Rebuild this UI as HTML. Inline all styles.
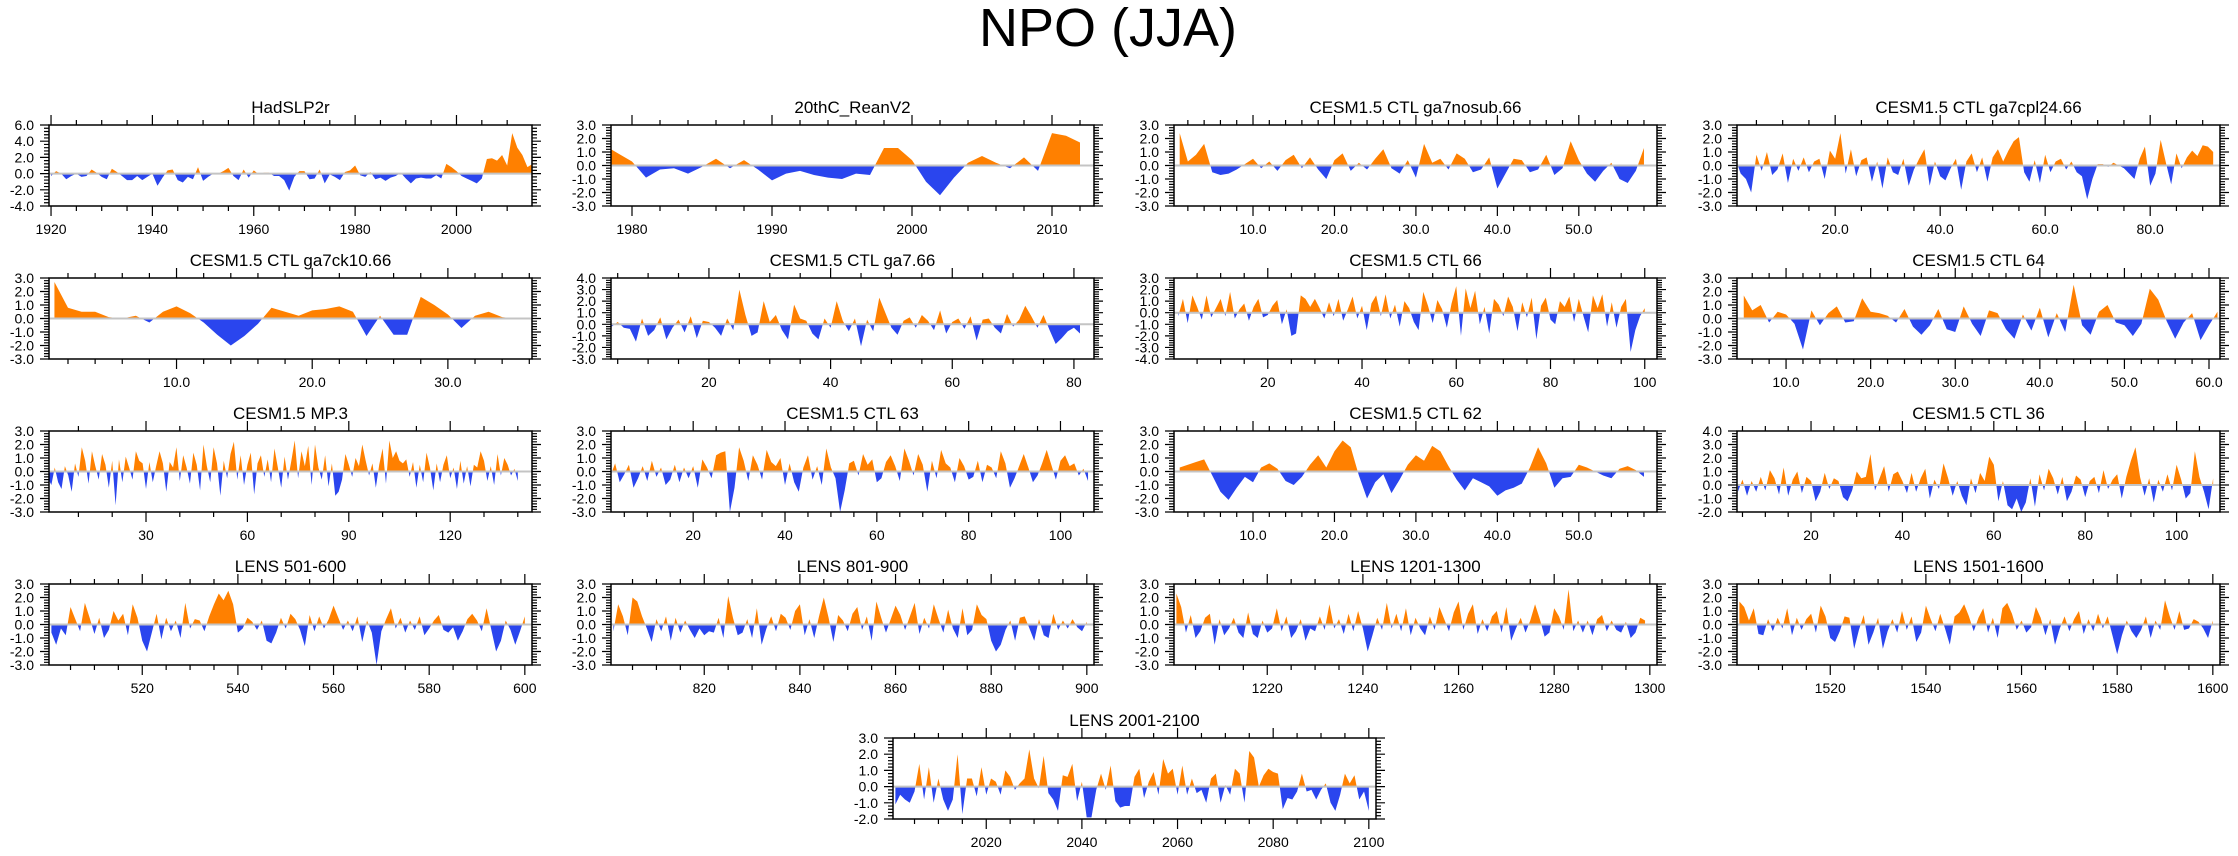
<!DOCTYPE html>
<html><head><meta charset="utf-8"><title>NPO (JJA)</title>
<style>
html,body{margin:0;padding:0;background:#fff;}
svg{display:block;font-family:"Liberation Sans",Arial,sans-serif;}
</style></head>
<body>
<svg id="chart" width="2238" height="856" viewBox="0 0 2238 856" xmlns="http://www.w3.org/2000/svg">
<text x="1108" y="46" text-anchor="middle" font-size="54" fill="#000">NPO (JJA)</text>
</svg>
<script>
// ---- data ----
const hadslp2r = [-0.3,0.3,0,-0.7,-0.3,0,-0.4,-0.3,0.5,0.1,-0.4,-0.7,0.6,0.2,-0.3,-0.8,-0.8,-0.3,-0.8,-0.4,0,-1.5,-0.5,0.4,0.5,-0.8,-1.1,-0.4,-0.7,0.8,-0.9,-0.4,0,0,0.3,0.7,-0.3,-0.8,0.5,-0.5,0.4,-0.1,0.1,0.1,-0.3,-0.3,-0.8,-2.1,-0.4,0.3,0.3,-0.7,-0.6,0.5,-1.2,-0.1,-0.4,-0.8,0.2,0.4,1.0,-0.2,-0.4,0.2,-0.7,-0.5,-0.9,-0.5,-0.3,0.1,-0.6,-1.2,-0.6,-0.5,-0.6,-0.6,-0.2,-0.6,1.2,0.8,0.3,-0.3,-0.6,-0.9,-1.2,-0.6,1.8,1.9,1.6,2.3,1.0,5.0,3.2,2.3,0.8,1.2];
const reanv2 = [1.5,0.9,0.3,-0.9,-0.3,-0.2,-0.6,-0.1,0.5,-0.2,0.4,-0.3,-1.1,-0.6,-0.4,-0.7,-0.9,-1.0,-0.6,-0.7,1.3,1.3,0.4,-1.2,-2.2,-0.9,0.2,0.7,0.2,-0.2,0.6,-0.4,2.4,2.2,1.7];
const ga7nosub = [2.4,0.3,0.8,1.6,-0.5,-0.7,-0.6,-0.3,0.1,0.5,-0.2,0.3,-0.4,0.4,0.8,-0.2,0.6,-0.3,-1.0,0.4,0.9,-0.4,0.2,-0.3,0.5,1.2,-0.2,-0.6,0.4,-0.9,1.6,0.2,0.5,-0.3,0.9,0.5,-0.5,-0.3,0.6,-1.7,-0.6,0.5,0.4,-0.5,-0.3,0.8,-0.7,-0.2,1.8,0.4,-0.6,-1.2,-0.4,0.2,-1.0,-1.3,-0.4,1.3];
const ga7cpl24 = [0.5,-0.6,-1.0,-2.0,0.8,-0.4,1.0,-0.7,-0.3,0.9,-1.3,0.5,-0.4,0.6,-0.5,0.3,0.5,-1.0,1.1,0.5,2.4,-0.6,1.2,-0.8,0.4,0.6,-1.2,0.3,-1.7,0.6,-0.5,-0.7,0.5,-1.5,-0.3,0.5,1.2,-1.5,0.3,-0.8,-1.1,-0.2,0.5,-1.8,0.3,0.9,-0.5,0.6,-1.2,0.6,1.2,0.3,1.1,1.8,2.1,-0.5,-1.2,0.4,-1.3,0.8,-0.5,0.3,0.5,-0.3,0.3,-0.5,-0.8,-2.5,-1.0,0.1,0.1,-0.1,0.2,0.0,-0.2,-0.6,-1.0,0.5,1.4,-1.5,-0.6,1.9,0.2,-1.4,0.9,-0.2,0.6,1.1,0.7,1.5,1.4,1.0];
const ga7ck10 = [2.7,0.8,0.5,0.5,0.1,0.0,0.2,-0.3,0.5,0.9,0.4,-0.3,-1.2,-2.0,-1.3,-0.4,0.8,0.5,0.2,0.6,0.7,0.9,0.5,-1.3,0.2,-1.2,-1.2,1.6,1.0,0.3,-0.7,0.2,0.5,0.1,0.0];
const ga7 = [-0.2,0.2,-0.3,-0.4,-1.5,0.5,-1.0,-0.5,0.6,-1.3,-0.3,0.4,-0.7,0.7,-1.2,0.3,0.2,-0.3,-1.0,0.5,-0.5,3.0,0.8,-1.0,-0.7,2.0,0.2,0.8,-0.5,-1.3,1.7,0.5,0.3,-0.8,-1.3,0.5,-0.3,2.0,0.3,-0.6,0.5,-1.9,0.4,-0.6,2.3,1.0,-0.3,-0.9,0.3,0.6,-0.3,0.8,0.3,-0.5,1.2,-0.8,0.2,0.5,-0.4,0.7,-1.4,0.4,0.5,-0.3,-0.8,0.9,-0.2,0.4,1.6,0.7,-0.3,0.8,-0.5,-1.7,-1.2,-0.6,-0.3,-0.8];
const ctl66 = [-0.3,1.2,-0.9,1.5,0.5,-0.6,1.5,-0.4,0.4,1.2,-0.3,1.8,-0.5,0.3,0.8,-0.7,0.5,1.2,-0.4,-0.2,0.6,1.1,-1.0,0.3,-2.0,-1.8,1.5,1.2,0.5,1.2,0.4,-0.5,0.9,-0.3,1.2,-0.7,0.3,1.4,-0.5,0.6,-1.5,0.8,1.5,-0.3,1.6,-0.5,0.7,-1.2,1.0,0.4,-0.8,-1.5,1.8,0.6,-0.9,1.1,0.3,-1.3,0.8,2.3,-2.0,2.1,0.4,1.9,-1.0,0.5,-1.8,1.2,0.7,-0.3,1.4,0.5,-1.6,0.9,-0.4,1.3,-2.3,0.6,1.3,-0.6,-1.0,1.0,0.5,1.4,-0.8,1.2,-0.3,-1.7,1.5,0.4,1.6,-1.2,0.9,-1.3,0.5,1.2,-3.4,-1.5,-0.3,0.4];
const ctl64 = [1.7,0.6,1.0,-0.3,0.5,0.3,-0.4,-2.3,0.6,-0.5,0.4,0.9,-0.3,-0.2,1.5,0.5,0.4,0.2,-0.3,0.7,-0.6,-1.2,-0.5,0.7,-0.8,-1.0,0.9,-0.4,-1.3,0.6,0.4,-0.8,-1.5,0.3,-0.9,0.8,-1.4,0.4,-1.0,2.5,-0.5,-1.2,0.5,1.0,-0.3,-0.5,-1.3,-0.4,2.2,1.4,-0.2,-1.5,-0.3,0.4,-1.6,-0.5,0.5];
const mp3 = [-0.5,-1.0,0.3,-0.8,-1.3,0.4,-0.3,-1.5,0.6,-0.4,1.8,0.8,-0.9,1.5,0.4,-0.6,1.3,0.5,-1.2,0.8,-2.5,0.9,-0.8,1.1,0.3,-0.6,1.5,0.8,0.6,-1.3,0.7,-0.8,0.4,1.5,0.6,-1.5,0.7,0.3,1.8,-0.7,1.2,0.3,-0.9,1.4,0.5,-1.4,2.0,0.4,-0.8,1.8,0.6,-1.8,0.8,-0.5,1.3,2.2,-0.6,1.2,-1.0,0.5,1.4,-1.7,0.6,1.2,-0.4,0.9,-0.8,1.7,0.3,-1.2,1.1,-0.6,0.8,2.3,-0.5,1.5,0.4,1.9,-1.0,2.0,0.3,-0.6,1.2,-1.1,0.6,-1.8,-1.5,-0.6,1.3,0.5,-0.4,1.0,0.4,2.0,0.8,-0.3,0.6,-1.2,0.5,1.7,-0.9,2.3,1.0,1.5,0.8,0.6,0.9,-0.4,0.7,-1.2,0.5,-0.8,1.4,0.3,-1.4,0.6,-0.8,0.5,1.2,-0.5,0.3,-1.3,0.8,-0.9,0.4,-1.1,0.5,0.3,1.5,0.8,-0.7,0.4,-1.0,1.3,-0.3,1.0,0.5,-0.3,0.2,-0.7];
const ctl63 = [-0.3,0.6,-0.8,-0.2,0.5,-1.2,-0.5,0.4,-0.7,0.8,-0.4,0.3,-1.0,-0.6,0.5,-0.8,0.3,-0.5,0.4,-1.2,0.9,0.3,-0.5,1.2,1.4,1.5,-3.0,-1.2,1.8,0.8,-0.7,1.2,0.5,-0.6,1.6,0.7,0.4,1.0,-1.0,0.6,-0.8,-1.5,0.3,1.2,-0.6,0.4,-1.0,1.7,0.3,-0.5,-3.0,-1.4,0.6,0.8,-0.3,1.3,0.5,0.9,-0.8,-0.5,0.7,1.2,0.4,-0.7,1.7,0.8,-0.3,1.3,0.5,-1.5,0.8,-0.5,1.6,0.6,0.3,-0.8,1.0,0.4,-0.6,-0.4,0.8,-0.8,0.5,0.3,-0.5,1.5,0.6,-1.2,-0.5,0.4,1.3,0.3,-0.8,-0.3,0.6,1.6,0.5,-0.6,0.8,1.2,0.4,0.6,-0.3,0.2,-0.7];
const ctl62 = [0.3,0.5,0.7,0.9,-0.3,-1.5,-2.1,-1.2,-0.4,-0.8,0.3,0.6,0.2,-0.7,-1.0,-0.4,0.5,1.2,0.3,1.5,2.3,1.8,-0.3,-2.0,-0.8,-0.2,-1.6,-0.6,0.5,1.2,0.8,1.9,1.5,0.4,-0.6,-1.4,-0.5,-0.8,-1.1,-1.8,-1.4,-1.2,-0.9,0.3,1.8,0.6,-1.2,-0.5,-0.4,0.5,0.3,0.0,-0.3,-0.5,0.2,0.4,0.1,-0.4];
const ctl36 = [-0.5,0.4,-0.8,0.3,-0.5,0.6,-0.4,1.1,0.5,-0.7,1.3,-0.8,0.4,1.0,-0.6,0.6,0.3,-1.2,-0.5,0.9,-0.3,0.5,0.3,-0.9,-1.2,-0.4,1.0,0.5,0.6,2.3,-0.4,0.5,1.4,-0.5,0.8,1.0,0.3,-0.6,0.9,-0.5,0.5,1.2,-1.0,0.4,-0.3,1.6,0.5,-0.8,0.3,-0.8,-1.5,0.5,-0.6,0.9,0.3,2.1,1.5,-1.2,0.3,-1.5,-1.8,-1.0,-2.0,-1.3,0.5,-1.6,0.8,-0.4,1.2,0.5,-0.7,0.6,-1.2,-0.5,0.7,0.4,-0.9,0.3,0.6,-0.6,1.1,-0.3,0.4,0.8,-1.0,0.6,1.8,2.8,0.6,-0.8,0.5,-1.3,0.4,-0.5,0.8,-0.4,1.5,0.4,-1.0,-0.6,2.5,0.6,-0.5,-1.8,0.5];
const lens501 = [-0.6,-1.5,-0.3,-0.8,1.3,0.4,-0.5,1.6,0.5,-0.7,0.5,-1.0,-0.4,1.0,0.3,0.8,-0.8,1.5,0.5,-1.2,-2.0,-0.6,0.8,-1.1,0.5,-0.5,0.3,-1.0,1.6,-0.3,0.4,0.3,-0.5,0.6,1.5,2.3,1.8,2.5,1.5,-0.6,-0.3,0.5,0.2,-0.4,0.3,-1.2,-1.4,-0.6,0.5,-0.3,0.8,0.4,-0.4,-1.6,0.7,-0.5,0.6,-0.3,0.4,1.4,0.5,-0.4,0.3,-0.5,0.6,-1.3,0.3,-0.6,-3.0,-0.5,0.4,1.2,-0.3,0.5,-0.6,0.3,-0.4,0.6,-0.8,-0.3,0.3,0.7,-0.4,-0.6,-0.2,-1.2,-0.5,0.4,0.8,0.3,-0.5,1.2,-0.4,-2.0,-1.2,0.3,-0.4,-1.5,-0.5,0.6];
const lens801 = [-0.5,1.5,0.6,-0.8,2.0,1.7,0.6,-0.3,-1.3,0.4,-0.5,0.6,-1.2,0.5,-0.6,0.3,-0.4,-1.0,-0.3,-0.8,-0.5,-0.6,0.5,-1.0,2.1,0.5,-0.8,-0.6,0.4,-1.0,1.2,-1.5,-0.3,0.6,-0.5,0.8,0.5,-0.4,1.0,1.5,-0.8,0.4,-1.0,0.6,2.0,0.5,-1.3,0.7,0.3,-0.5,0.8,1.3,-0.4,0.6,-1.2,1.7,0.5,-0.6,0.4,1.4,0.7,-0.4,0.6,1.6,-0.7,0.5,-0.3,1.5,0.4,-0.6,1.1,-0.3,-1.0,1.2,-0.8,-0.4,1.5,0.7,0.4,-1.2,-2.0,-1.5,-0.4,0.3,-1.2,0.5,0.6,-0.3,-1.2,0.4,-0.8,-1.0,0.8,-0.4,0.3,-0.3,0.4,-0.2,-0.5,0.2];
const lens1201 = [2.3,1.3,-0.6,0.7,-1.0,-0.5,0.5,0.8,-1.5,0.4,-0.8,-0.3,0.5,-0.6,-1.0,0.9,-0.7,-1.0,0.3,-0.6,-0.3,1.2,-0.5,0.6,-1.0,-0.5,0.4,-1.2,-0.3,-0.5,0.6,-0.4,1.5,-0.3,0.4,-0.7,0.8,-0.5,1.0,-0.3,-2.0,-0.8,0.5,-0.4,1.6,-0.3,0.8,-0.5,1.2,-0.8,0.5,-0.3,-0.8,0.6,-0.4,1.3,0.4,-0.5,0.9,1.7,-0.4,0.8,1.5,-0.7,0.4,-0.5,0.6,1.0,-0.6,1.3,-1.2,-0.3,0.5,-0.6,0.3,1.5,0.4,-0.9,-0.6,1.2,0.6,-0.4,2.6,-0.5,0.3,-0.6,0.3,-0.8,0.4,0.7,-0.5,0.3,-0.4,-0.6,0.2,-1.0,-0.6,0.5,0.3];
const lens1501 = [1.7,1.3,0.3,1.2,-0.7,-0.8,0.4,-0.5,0.5,-0.3,1.2,-0.8,0.5,-0.4,0.4,0.8,-0.6,1.4,0.6,-1.0,-1.3,-0.5,0.6,0.5,-1.8,-0.4,0.7,-1.5,-0.6,0.5,-1.8,-0.5,0.4,-0.6,1.0,-0.4,0.6,-1.3,-0.6,1.4,0.4,-0.5,0.8,-0.3,-1.5,0.6,0.9,1.5,0.6,-0.5,0.5,1.2,-0.6,0.5,-1.0,1.2,1.6,0.8,-0.4,0.3,-0.6,-0.2,1.3,0.5,-0.8,0.4,-1.5,-0.3,0.6,-0.5,0.4,1.0,-0.7,0.4,-0.5,0.8,-0.3,0.6,-0.8,-2.2,-0.8,0.3,-0.5,-1.0,-0.4,0.6,-1.0,0.3,-0.4,1.8,0.6,-0.4,1.0,-0.4,-0.3,0.4,0.2,-0.3,-1.0,0.3];
const lens2001 = [-1.1,-0.5,-0.8,-1.0,-0.3,1.4,-0.8,1.2,-1.0,0.5,-0.8,-1.5,-0.8,2.0,-1.7,0.5,0.5,-0.6,1.2,-0.5,0.5,0.3,-0.5,1.0,0.6,-0.2,0.2,0.5,2.3,0.5,-0.1,1.9,-0.4,-0.8,-1.5,0.7,0.6,1.4,-0.9,0.3,-1.9,-1.9,-0.2,0.8,-0.2,1.3,-0.9,-1.3,-1.2,-1.2,0.6,1.1,-0.7,0.3,0.9,-0.5,1.7,0.8,1.1,-0.5,1.3,-0.5,0.5,-0.4,-0.2,-1.0,0.5,0.8,-1.0,0.1,-0.5,1.1,0.8,-1.0,2.2,1.8,0.0,0.7,1.1,0.9,0.8,-1.4,-0.7,-0.8,-0.3,0.8,-0.3,-0.2,-0.8,-0.2,0.2,-1.0,-1.5,-0.5,0.8,0.2,0.7,-0.8,-0.3,-1.5];

// ---- panel layout (not data) ----
const COLS = [49, 611, 1174, 1737];
const ROWS = [125, 278, 431, 584, 738];
const W = 483, H = 81;
const panels = [
 {name:'hadslp2r', title:'HadSLP2r', c:0,r:0, x0:1919.6,x1:2014.9, y0:-4,y1:6,ys:2, xt:[1920,1940,1960,1980,2000], dec:0, xm:4, d:hadslp2r, s:1920},
 {name:'20thc-reanv2', title:'20thC_ReanV2', c:1,r:0, x0:1978.5,x1:2013, y0:-3,y1:3,ys:1, xt:[1980,1990,2000,2010], dec:0, xm:5, d:reanv2, s:1978},
 {name:'ga7nosub-66', title:'CESM1.5 CTL ga7nosub.66', c:2,r:0, x0:0.3,x1:59.6, y0:-3,y1:3,ys:1, xt:[10,20,30,40,50], dec:1, xm:5, d:ga7nosub, s:1},
 {name:'ga7cpl24-66', title:'CESM1.5 CTL ga7cpl24.66', c:3,r:0, x0:1.3,x1:93.3, y0:-3,y1:3,ys:1, xt:[20,40,60,80], dec:1, xm:4, d:ga7cpl24, s:1},
 {name:'ga7ck10-66', title:'CESM1.5 CTL ga7ck10.66', c:0,r:1, x0:0.6,x1:36.2, y0:-3,y1:3,ys:1, xt:[10,20,30], dec:1, xm:5, d:ga7ck10, s:1},
 {name:'ga7-66', title:'CESM1.5 CTL ga7.66', c:1,r:1, x0:3.9,x1:83.3, y0:-3,y1:4,ys:1, xt:[20,40,60,80], dec:0, xm:4, d:ga7, s:4},
 {name:'ctl-66', title:'CESM1.5 CTL 66', c:2,r:1, x0:0.1,x1:102.6, y0:-4,y1:3,ys:1, xt:[20,40,60,80,100], dec:0, xm:4, d:ctl66, s:1},
 {name:'ctl-64', title:'CESM1.5 CTL 64', c:3,r:1, x0:4.2,x1:61.3, y0:-3,y1:3,ys:1, xt:[10,20,30,40,50,60], dec:1, xm:5, d:ctl64, s:5},
 {name:'mp-3', title:'CESM1.5 MP.3', c:0,r:2, x0:1.3,x1:144.2, y0:-3,y1:3,ys:1, xt:[30,60,90,120], dec:0, xm:3, d:mp3, s:1},
 {name:'ctl-63', title:'CESM1.5 CTL 63', c:1,r:2, x0:2.1,x1:107.3, y0:-3,y1:3,ys:1, xt:[20,40,60,80,100], dec:0, xm:4, d:ctl63, s:2},
 {name:'ctl-62', title:'CESM1.5 CTL 62', c:2,r:2, x0:0.3,x1:59.6, y0:-3,y1:3,ys:1, xt:[10,20,30,40,50], dec:1, xm:5, d:ctl62, s:1},
 {name:'ctl-36', title:'CESM1.5 CTL 36', c:3,r:2, x0:3.8,x1:109.5, y0:-2,y1:4,ys:1, xt:[20,40,60,80,100], dec:0, xm:4, d:ctl36, s:4},
 {name:'lens-501-600', title:'LENS 501-600', c:0,r:3, x0:500.5,x1:601.5, y0:-3,y1:3,ys:1, xt:[520,540,560,580,600], dec:0, xm:4, d:lens501, s:501},
 {name:'lens-801-900', title:'LENS 801-900', c:1,r:3, x0:800.5,x1:901.5, y0:-3,y1:3,ys:1, xt:[820,840,860,880,900], dec:0, xm:4, d:lens801, s:801},
 {name:'lens-1201-1300', title:'LENS 1201-1300', c:2,r:3, x0:1200.5,x1:1301.5, y0:-3,y1:3,ys:1, xt:[1220,1240,1260,1280,1300], dec:0, xm:4, d:lens1201, s:1201},
 {name:'lens-1501-1600', title:'LENS 1501-1600', c:3,r:3, x0:1500.5,x1:1601.5, y0:-3,y1:3,ys:1, xt:[1520,1540,1560,1580,1600], dec:0, xm:4, d:lens1501, s:1501},
 {name:'lens-2001-2100', title:'LENS 2001-2100', left:893,r:4, x0:2000.5,x1:2101.5, y0:-2,y1:3,ys:1, xt:[2020,2040,2060,2080,2100], dec:0, xm:4, d:lens2001, s:2001}
];

const NS = 'http://www.w3.org/2000/svg';
const svg = document.getElementById('chart');
function mk(tag, attrs, parent){ const e=document.createElementNS(NS,tag); for(const k in attrs) e.setAttribute(k,attrs[k]); (parent||svg).appendChild(e); return e; }

panels.forEach((p, pi) => {
  const L = p.left !== undefined ? p.left : COLS[p.c];
  const T = ROWS[p.r];
  const g = mk('g', {});
  
  
  const xs = v => L + (v - p.x0) / (p.x1 - p.x0) * W;
  const ys = v => T + (p.y1 - v) / (p.y1 - p.y0) * H;

  const clipA = 'ca' + pi, clipB = 'cb' + pi;
  const defs = mk('defs', {}, g);
  const ca = mk('clipPath', {id: clipA}, defs);
  mk('rect', {x: L, y: T, width: W, height: ys(0) - T}, ca);
  const cb = mk('clipPath', {id: clipB}, defs);
  mk('rect', {x: L, y: ys(0), width: W, height: T + H - ys(0)}, cb);

  let pts = [];
  p.d.forEach((v, i) => pts.push(xs(p.s + i).toFixed(2) + ',' + ys(v).toFixed(2)));
  const xa = xs(p.s), xb = xs(p.s + p.d.length - 1);
  const poly = xa.toFixed(2) + ',' + ys(0).toFixed(2) + ' ' + pts.join(' ') + ' ' + xb.toFixed(2) + ',' + ys(0).toFixed(2);
  const pos = mk('polygon', {points: poly, fill: '#ff8000', 'clip-path': 'url(#' + clipA + ')'}, g);
  
  
  const neg = mk('polygon', {points: poly, fill: '#2a45ee', 'clip-path': 'url(#' + clipB + ')'}, g);
  
  
  const zl = mk('line', {x1: L, x2: L + W, y1: ys(0), y2: ys(0), stroke: '#c4c4c4', 'stroke-width': 2}, g);
  
  

  const box = mk('rect', {x: L, y: T, width: W, height: H, fill: 'none', stroke: '#000', 'stroke-width': 1.5}, g);
  
  

  let tk = '';
  const ny = Math.round((p.y1 - p.y0) / p.ys);
  for (let k = 0; k <= ny * 5; k++) {
    const v = p.y0 + k * p.ys / 5;
    const y = ys(v).toFixed(2);
    const len = (k % 5 === 0) ? 9 : 5;
    tk += `M${L},${y}h${-len}M${L + W},${y}h${len}`;
  }
  const step = p.xt[1] - p.xt[0], mstep = step / p.xm;
  let start = p.xt[0];
  while (start - mstep >= p.x0) start -= mstep;
  for (let v = start; v <= p.x1 + 1e-6; v += mstep) {
    const x = xs(v).toFixed(2);
    const isMaj = p.xt.some(t => Math.abs(t - v) < 1e-6);
    const len = isMaj ? 10 : 5;
    tk += `M${x},${T}v${-len}M${x},${T + H}v${len}`;
  }
  const ticks = mk('path', {d: tk, stroke: '#000', 'stroke-width': 1.2, fill: 'none'}, g);
  
  

  for (let k = 0; k <= ny; k++) {
    const v = p.y0 + k * p.ys;
    const t = mk('text', {x: L - 15, y: ys(v) + 5, 'text-anchor': 'end', 'font-size': 14}, g);
    t.textContent = v.toFixed(1);
    
    
  }
  p.xt.forEach(v => {
    const t = mk('text', {x: xs(v), y: T + H + 28, 'text-anchor': 'middle', 'font-size': 14}, g);
    t.textContent = p.dec ? v.toFixed(p.dec) : String(v);
    
    
  });
  const tt = mk('text', {x: L + W / 2, y: T - 12, 'text-anchor': 'middle', 'font-size': 17}, g);
  tt.textContent = p.title;
  
  
});
</script>
</body></html>
